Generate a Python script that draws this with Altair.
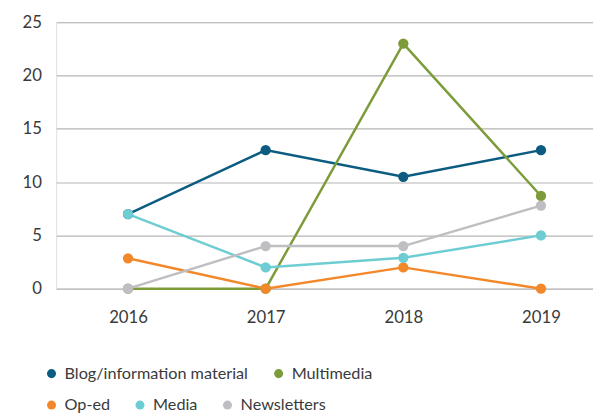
import altair as alt
import pandas as pd

years = ["2016", "2017", "2018", "2019"]
blog = [7, 13, 10.5, 13]
multimedia = [0, 0, 23, 8.7]
oped = [2.85, 0, 2, 0]
media = [7, 2, 2.9, 5]
newsletters = [0, 4, 4, 7.8]

row1 = ["Blog/information material", "Multimedia"]
row2 = ["Op-ed", "Media", "Newsletters"]
colors1 = ["#0b5c80", "#7c9c3a"]
colors2 = ["#f3882a", "#6ecdd2", "#bfbfc3"]

series = {
    "Blog/information material": blog,
    "Multimedia": multimedia,
    "Op-ed": oped,
    "Media": media,
    "Newsletters": newsletters,
}
rows = []
for name, vals in series.items():
    for y, v in zip(years, vals):
        rows.append({"year": y, "value": v, "series": name})
df = pd.DataFrame(rows)

FONT = "Lato"
TXT = "#3a3a3a"

x = alt.X("year:O", title=None, sort=years,
          scale=alt.Scale(type="point", padding=0.45, align=0.58),
          axis=alt.Axis(labelAngle=0, ticks=False, domain=False, grid=False,
                        labelPadding=21, labelFontSize=17, labelColor=TXT, labelFont=FONT))
y = alt.Y("value:Q", title=None, scale=alt.Scale(domain=[0, 25], nice=False),
          axis=alt.Axis(values=[0, 5, 10, 15, 20, 25], ticks=False, domain=False,
                        grid=True, gridColor="#b5b5b5", gridWidth=1.2,
                        labelPadding=15, labelFontSize=17, labelColor=TXT, labelFont=FONT))

base = alt.Chart(df)

lines = base.mark_line(strokeWidth=2.5).encode(
    x=x, y=y,
    stroke=alt.Stroke("series:N", scale=alt.Scale(domain=row1 + row2, range=colors1 + colors2), legend=None),
)

leg_common = dict(orient="none", direction="horizontal", title=None, padding=0,
                  symbolType="circle", symbolSize=85, symbolStrokeWidth=0,
                  labelFontSize=16.5, labelColor=TXT, labelFont=FONT, labelLimit=400,
                  labelOffset=5, columnPadding=22)

ptsA = base.transform_filter(alt.FieldOneOfPredicate(field="series", oneOf=row1)).mark_circle(
    size=110, opacity=1).encode(
    x=x, y=y,
    fill=alt.Fill("series:N", scale=alt.Scale(domain=row1, range=colors1),
                  legend=alt.Legend(legendX=-13, legendY=349, **leg_common)),
)
ptsB = base.transform_filter(alt.FieldOneOfPredicate(field="series", oneOf=row2)).mark_circle(
    size=110, opacity=1).encode(
    x=x, y=y,
    fill=alt.Fill("series:N", scale=alt.Scale(domain=row2, range=colors2),
                  legend=alt.Legend(legendX=-13, legendY=381, **leg_common)),
)

chart = alt.layer(lines, ptsA, ptsB).resolve_scale(fill="independent").properties(
    width=546, height=271,
    padding={"left": 14, "top": 2, "right": 0, "bottom": 0},
).configure_view(stroke=None).configure(font=FONT)

chart.save("out.html", embed_options={"renderer": "svg", "actions": False})
